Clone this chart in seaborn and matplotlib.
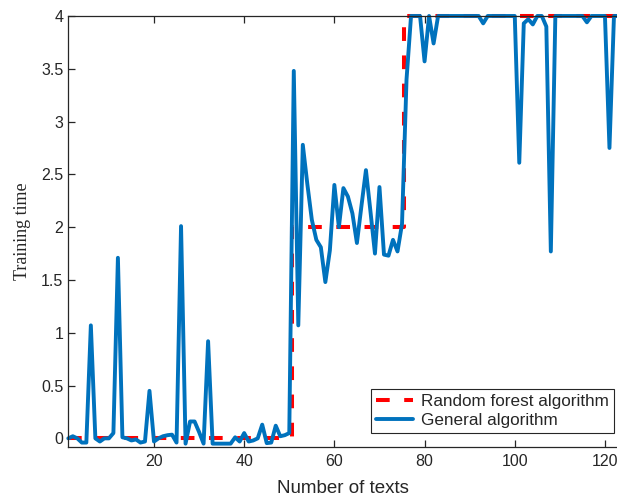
import numpy as np
import pandas as pd
import matplotlib
matplotlib.use('Agg')
import matplotlib.pyplot as plt
import seaborn as sns

# Data
n_texts = list(range(1, 124))

random_forest = [0.0] * 50 + [2.0] * 25 + [4.0] * 48

general = [
    0.00, 0.02, 0.00, -0.04, -0.04, 1.07, 0.00, -0.03, 0.00, 0.00,      # 1-10
    0.05, 1.71, 0.01, 0.00, -0.02, -0.01, -0.04, -0.03, 0.45, -0.03,    # 11-20
    0.00, 0.02, 0.03, 0.035, -0.04, 2.01, -0.05, 0.16, 0.16, 0.06,      # 21-30
    -0.05, 0.92, -0.05, -0.05, -0.05, -0.05, -0.05, 0.01, -0.03, 0.05,  # 31-40
    -0.03, -0.02, 0.00, 0.13, -0.045, -0.04, 0.12, 0.02, 0.03, 0.05,    # 41-50
    3.48, 1.07, 2.78, 2.41, 2.07, 1.88, 1.81, 1.48, 1.78, 2.40,         # 51-60
    2.00, 2.37, 2.29, 2.13, 1.85, 2.20, 2.54, 2.15, 1.75, 2.38,         # 61-70
    1.74, 1.73, 1.88, 1.77, 2.03, 3.40, 4.00, 4.00, 4.00, 3.57,         # 71-80
    4.00, 3.74, 4.00, 4.00, 4.00, 4.00, 4.00, 4.00, 4.00, 4.00,         # 81-90
    4.00, 4.00, 3.93, 4.00, 4.00, 4.00, 4.00, 4.00, 4.00, 4.00,         # 91-100
    2.61, 3.93, 3.97, 3.92, 4.00, 4.00, 3.90, 1.77, 4.00, 4.00,         # 101-110
    4.00, 4.00, 4.00, 4.00, 4.00, 3.94, 4.00, 4.00, 4.00, 4.00,         # 111-120
    2.75, 4.00, 4.00,                                                   # 121-123
]

x_ticks = [20, 40, 60, 80, 100, 120]
y_ticks = [0, 0.5, 1, 1.5, 2, 2.5, 3, 3.5, 4]
y_labels = ['0', '0.5', '1', '1.5', '2', '2.5', '3', '3.5', '4']

df = pd.DataFrame({'n': n_texts, 'rf': random_forest, 'gen': general})

sns.set_style('white')
plt.rcParams['font.family'] = ['Liberation Sans', 'DejaVu Sans']

fig = plt.figure(figsize=(6.17, 4.98), dpi=100)
# axes run a little past the right edge, like the cropped original
ax = fig.add_axes([0.1107, 0.1028, 0.8917, 0.8651])

sns.lineplot(data=df, x='n', y='rf', ax=ax, color='#FF0000', lw=2.9,
             ls=(0, (3.4, 3.6)), drawstyle='steps-mid',
             label='Random forest algorithm', clip_on=False)
sns.lineplot(data=df, x='n', y='gen', ax=ax, color='#0072BD', lw=2.8,
             label='General algorithm', clip_on=False)

ax.set_xlim(1, 123)
ax.set_ylim(-0.08, 4)
ax.set_xticks(x_ticks)
ax.set_xticklabels([str(t) for t in x_ticks])
ax.set_yticks(y_ticks)
ax.set_yticklabels(y_labels)

for s in ax.spines.values():
    s.set_color('#262626')
    s.set_linewidth(0.9)
ax.spines['right'].set_visible(False)
ax.tick_params(direction='in', length=5, width=0.9, color='#262626',
               labelcolor='#262626', labelsize=11.5, top=True, bottom=True,
               left=True, right=False)
ax.tick_params(axis='x', pad=5.5)

ax.set_xlabel('Number of texts', fontsize=13.5, color='#262626', labelpad=7.5)
ax.set_ylabel('Training time', fontsize=13, family='Liberation Serif',
              color='#262626', labelpad=7)

leg = ax.legend(loc='lower right', bbox_to_anchor=(0.9917, 0.032),
                fontsize=12.3, frameon=True, fancybox=False,
                edgecolor='#262626', framealpha=1, handlelength=2.2,
                handletextpad=0.45, labelspacing=0.2, borderaxespad=0,
                borderpad=0.3)
leg.get_frame().set_linewidth(0.8)

fig.savefig('out.png', dpi=100)
